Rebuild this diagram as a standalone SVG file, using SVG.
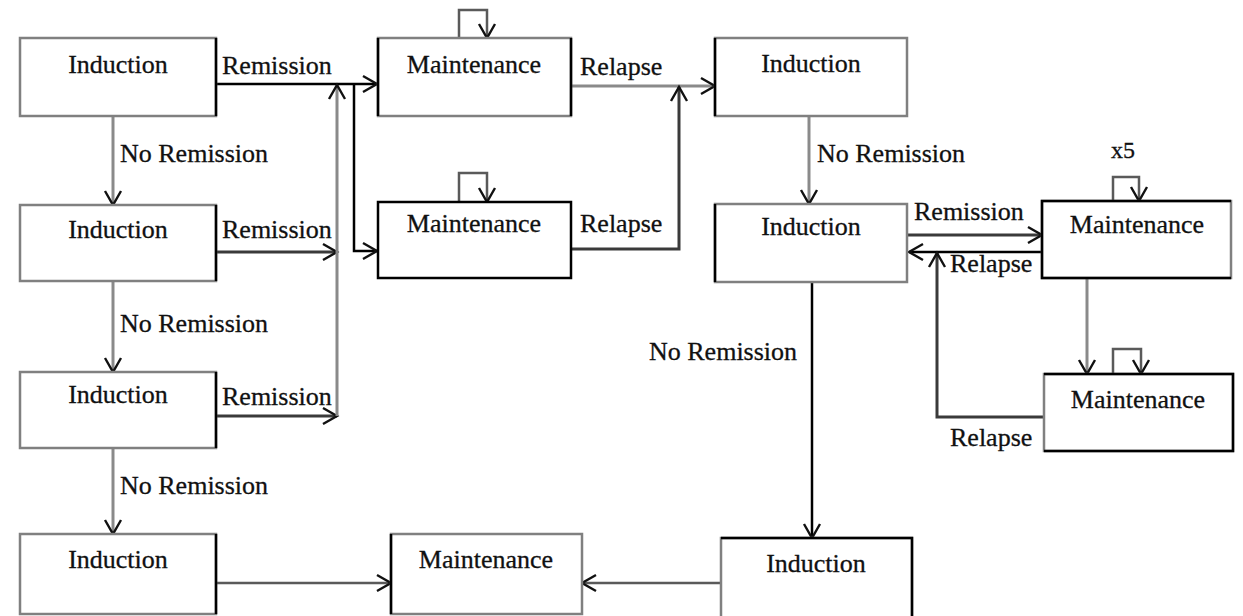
<svg xmlns="http://www.w3.org/2000/svg" width="1243" height="616" viewBox="0 0 1243 616">
<style>
.bg{fill:#fff}
.box{fill:#fff;stroke:#808080;stroke-width:2.5}
.edge{fill:none;stroke:#000;stroke-width:2.5}
.lbl{font-family:"Liberation Serif","Times New Roman",serif;font-size:26px;fill:#111;stroke:#111;stroke-width:0.3}
.nt{font-family:"Liberation Serif","Times New Roman",serif;font-size:26px;fill:#111;stroke:#111;stroke-width:0.3;text-anchor:middle}
.c{fill:none;stroke-width:2.5;marker-end:url(#ah)}
.k{stroke:#000}
.g{stroke:#8a8a8a;stroke-width:3}
.d{stroke:#3a3a3a;stroke-width:3}
.m{stroke:#5a5a5a}
</style>
<defs>
<marker id="ah" markerUnits="userSpaceOnUse" markerWidth="20" markerHeight="20" viewBox="-17 -10 19 20" refX="0" refY="0" orient="auto" overflow="visible">
<path d="M-14,-8 L0,0 L-14,8" fill="none" stroke="#111" stroke-width="2.4"/>
</marker>
</defs>
<rect class="bg" x="0" y="0" width="1243" height="616"/>

<g id="connectors">
<path class="c k" d="M216,84 H377"/>
<path class="c g" d="M113,116 V205"/>
<path class="c d" d="M216,252 H337"/>
<path class="c g" d="M113,281 V372"/>
<path class="c d" d="M216,416 H337"/>
<path class="c g" d="M113,448 V534"/>
<path class="c g" d="M337,416 V85"/>
<path class="c k" d="M354,84 V251 H377"/>
<path class="c m" d="M459,38 V10 H487 V38"/>
<path class="c m" d="M459,202 V173 H487 V202"/>
<path class="c g" d="M571,86 H715"/>
<path class="c d" d="M571,249 H679 V87"/>
<path class="c g" d="M809,116 V204"/>
<path class="c d" d="M907,235 H1042"/>
<path class="c k" d="M1042,252 H909"/>
<path class="c m" d="M1113,201 V177 H1139 V201"/>
<path class="c g" d="M1087,278 V374"/>
<path class="c m" d="M1113,374 V349 H1141 V374"/>
<path class="c d" d="M1044,417 H937 V253"/>
<path class="c k" d="M812,282 V538"/>
<path class="c m" d="M216,583 H391"/>
<path class="c m" d="M721,583 H582"/>
</g>

<g id="labels">
<text class="lbl" x="222" y="74">Remission</text>
<text class="lbl" x="120" y="162">No Remission</text>
<text class="lbl" x="222" y="238">Remission</text>
<text class="lbl" x="120" y="332">No Remission</text>
<text class="lbl" x="222" y="405">Remission</text>
<text class="lbl" x="120" y="494">No Remission</text>
<text class="lbl" x="580" y="75">Relapse</text>
<text class="lbl" x="580" y="232">Relapse</text>
<text class="lbl" x="817" y="162">No Remission</text>
<text class="lbl" x="914" y="220">Remission</text>
<text class="lbl" x="950" y="272">Relapse</text>
<text class="lbl" x="1111" y="158" style="font-size:24px">x5</text>
<text class="lbl" x="649" y="360">No Remission</text>
<text class="lbl" x="950" y="446">Relapse</text>
</g>

<g id="n-induction-1"><rect class="box" x="20" y="38" width="196" height="78"/><path class="edge" d="M216,38 V116"/><text class="nt" x="118" y="73">Induction</text></g>
<g id="n-induction-2"><rect class="box" x="20" y="205" width="196" height="76"/><path class="edge" d="M216,205 V281"/><text class="nt" x="118" y="238">Induction</text></g>
<g id="n-induction-3"><rect class="box" x="20" y="372" width="196" height="76"/><path class="edge" d="M216,372 V448"/><text class="nt" x="118" y="403">Induction</text></g>
<g id="n-induction-4"><rect class="box" x="20" y="534" width="196" height="80"/><path class="edge" d="M216,534 V614"/><text class="nt" x="118" y="568">Induction</text></g>
<g id="n-maintenance-1"><rect class="box" x="378" y="38" width="193" height="78"/><path class="edge" d="M378,38 V116 M571,38 V116"/><text class="nt" x="474" y="73">Maintenance</text></g>
<g id="n-maintenance-2"><rect class="box" x="378" y="202" width="193" height="76" style="stroke:#000"/><text class="nt" x="474" y="232">Maintenance</text></g>
<g id="n-maintenance-bottom"><rect class="box" x="391" y="534" width="191" height="80"/><path class="edge" d="M391,534 V614"/><text class="nt" x="486" y="568">Maintenance</text></g>
<g id="n-induction-tr"><rect class="box" x="715" y="38" width="192" height="78"/><path class="edge" d="M715,38 V116"/><text class="nt" x="811" y="72">Induction</text></g>
<g id="n-induction-mr"><rect class="box" x="715" y="204" width="192" height="78"/><path class="edge" d="M715,204 V282"/><text class="nt" x="811" y="235">Induction</text></g>
<g id="n-induction-br"><rect class="box" x="721" y="538" width="191" height="84"/><path class="edge" d="M721,538 H912 V620"/><text class="nt" x="816" y="572">Induction</text></g>
<g id="n-maintenance-tr"><rect class="box" x="1042" y="201" width="189" height="77"/><path class="edge" d="M1231,201 H1042 V278 H1231"/><text class="nt" x="1137" y="233">Maintenance</text></g>
<g id="n-maintenance-low"><rect class="box" x="1044" y="374" width="189" height="77"/><path class="edge" d="M1044,374 H1233 V451 H1044"/><text class="nt" x="1138" y="408">Maintenance</text></g>
</svg>
